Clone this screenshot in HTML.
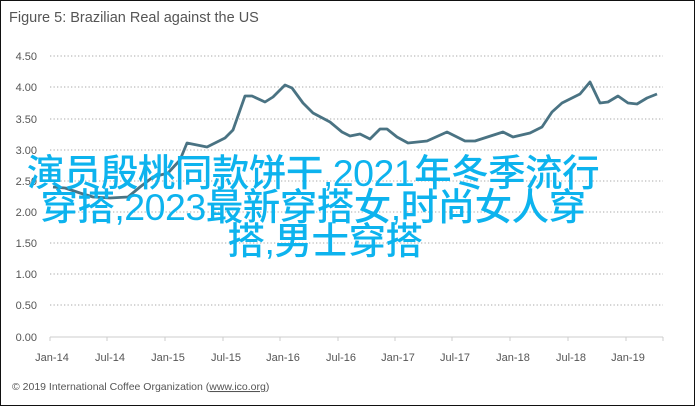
<!DOCTYPE html>
<html><head><meta charset="utf-8"><style>
html,body{margin:0;padding:0;background:#fff}
#c{position:relative;width:695px;height:406px;overflow:hidden;background:#fff}
svg{position:absolute;left:0;top:0}
#ov{position:absolute;left:2px;top:156px;width:622px;text-align:center;white-space:nowrap;font-family:"Liberation Sans","Noto Sans CJK SC",sans-serif;font-size:37.5px;line-height:34px;color:#0db3ee;font-weight:500;letter-spacing:-0.5px}
</style></head><body><div id="c">
<svg width="695" height="406" font-family="Liberation Sans, sans-serif">
<rect x="0.5" y="0.5" width="694" height="405" fill="none" stroke="#111" stroke-width="1"/>
<text x="9" y="22" font-size="14.5" fill="#555">Figure 5: Brazilian Real against the US</text>
<g stroke="#bbb" stroke-width="1.3" stroke-dasharray="1.3 2.2">
<line x1="50" y1="56" x2="663" y2="56"/><line x1="50" y1="87" x2="663" y2="87"/>
<line x1="50" y1="119" x2="663" y2="119"/><line x1="50" y1="150" x2="663" y2="150"/>
<line x1="50" y1="181" x2="663" y2="181"/><line x1="50" y1="212" x2="663" y2="212"/>
<line x1="50" y1="243" x2="663" y2="243"/><line x1="50" y1="274" x2="663" y2="274"/>
<line x1="50" y1="305" x2="663" y2="305"/></g>
<line x1="50" y1="337" x2="663" y2="337" stroke="#ccc"/>
<g stroke="#ccc"><line x1="50" y1="337" x2="50" y2="341"/><line x1="107" y1="337" x2="107" y2="341"/><line x1="165" y1="337" x2="165" y2="341"/><line x1="223" y1="337" x2="223" y2="341"/><line x1="280" y1="337" x2="280" y2="341"/><line x1="338" y1="337" x2="338" y2="341"/><line x1="395" y1="337" x2="395" y2="341"/><line x1="452" y1="337" x2="452" y2="341"/><line x1="510" y1="337" x2="510" y2="341"/><line x1="568" y1="337" x2="568" y2="341"/><line x1="626" y1="337" x2="626" y2="341"/><line x1="663" y1="337" x2="663" y2="341"/></g>
<g font-size="11" fill="#555" text-anchor="end">
<text x="37" y="60">4.50</text><text x="37" y="91">4.00</text><text x="37" y="123">3.50</text><text x="37" y="154">3.00</text><text x="37" y="185">2.50</text><text x="37" y="216">2.00</text><text x="37" y="247">1.50</text><text x="37" y="278">1.00</text><text x="37" y="309">0.50</text><text x="37" y="341">0.00</text></g>
<g font-size="11" fill="#555" text-anchor="middle">
<text x="52" y="361">Jan-14</text><text x="110" y="361">Jul-14</text><text x="168" y="361">Jan-15</text><text x="226" y="361">Jul-15</text><text x="283" y="361">Jan-16</text><text x="341" y="361">Jul-16</text><text x="398" y="361">Jan-17</text><text x="455" y="361">Jul-17</text><text x="513" y="361">Jan-18</text><text x="571" y="361">Jul-18</text><text x="628" y="361">Jan-19</text></g>
<text x="12" y="390" font-size="10.5" fill="#555">© 2019 International Coffee Organization (<tspan text-decoration="underline">www.ico.org</tspan>)</text>
<polyline fill="none" stroke="#4a7383" stroke-width="2.8" stroke-linejoin="round" points="53,187 65,188 80,193 93,197 110,198 128,197 140,187 153,177 168,173 180,160 187,143 207,147 225,138 233,130 245,96 252,96 265,102 273,97 285,85 292,88 303,103 313,113 330,122 342,132 350,136 360,134 370,139 380,129 387,129 397,137 408,143 427,141 447,132 465,141 475,141 503,132 513,137 530,133 542,127 552,112 562,103 580,94 590,82 600,103 608,102 618,96 628,103 637,104 647,98 657,94"/>
</svg>
<div id="ov">演员殷桃同款饼干,2021年冬季流行<br>穿搭,2023最新穿搭女,时尚女人穿<br><span style="padding-left:24px">搭,男士穿搭</span></div>
</div></body></html>
